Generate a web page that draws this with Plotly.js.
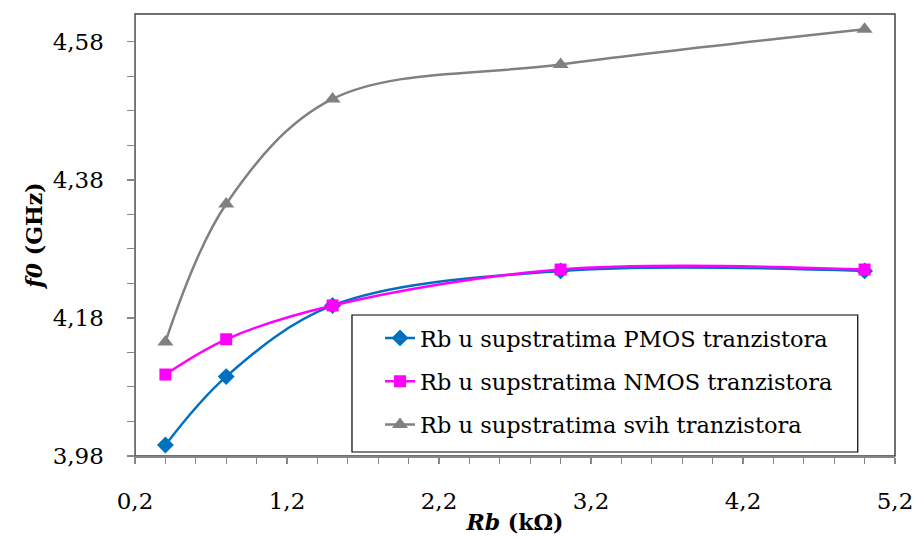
<!DOCTYPE html>
<html>
<head>
<meta charset="utf-8">
<script src="https://cdn.plot.ly/plotly-3.0.1.min.js"></script>
<style>html,body{margin:0;padding:0;background:#fff}#chart{width:915px;height:539px}</style>
</head>
<body>
<div id="chart"></div>
<script>
const rb = [0.4, 0.8, 1.5, 3.0, 5.0];
const pmos = [3.996, 4.095, 4.198, 4.248, 4.248];
const nmos = [4.098, 4.149, 4.198, 4.250, 4.250];
const svih = [4.145, 4.345, 4.497, 4.547, 4.598];
const names = [
  "Rb u supstratima PMOS tranzistora",
  "Rb u supstratima NMOS tranzistora",
  "Rb u supstratima svih tranzistora"
];
const xTicks = [0.2, 1.2, 2.2, 3.2, 4.2, 5.2];
const yTicks = [3.98, 4.18, 4.38, 4.58];

const font = "DejaVu Serif";
function tr(y, name, color, symbol, size, grp) {
  return {
    x: rb, y: y, name: name, type: "scatter", mode: "lines+markers",
    line: {color: color, width: 2.5, shape: "spline", smoothing: 1},
    marker: {color: color, symbol: symbol, size: size},
    legendgroup: grp
  };
}
const data = [
  tr(pmos, names[0], "#0070C0", "diamond", 13, "a"),
  tr(nmos, names[1], "#FF00FF", "square", 12, "b"),
  tr(svih, names[2], "#808080", "triangle-up", 14, "c")
];
const layout = {
  width: 915, height: 539,
  margin: {l: 135, r: 20, t: 14, b: 83},
  paper_bgcolor: "#fff", plot_bgcolor: "#fff",
  separators: ", ",
  font: {family: font, size: 22, color: "#000"},
  showlegend: true,
  legend: {
    x: 0.3224, y: 0.315, xanchor: "left", yanchor: "top",
    bgcolor: "rgba(0,0,0,0)", borderwidth: 0,
    font: {family: font, size: 22.5, color: "#000"},
    traceorder: "grouped", tracegroupgap: 11
  },
  xaxis: {
    range: [0.2, 5.2], tickvals: xTicks, tickformat: ".1f",
    showgrid: false, zeroline: false,
    showline: true, linecolor: "#868686", linewidth: 1.5,
    ticks: "outside", ticklen: 6, tickcolor: "#868686", tickwidth: 1.5,
    ticklabelstandoff: 18,
    minor: {dtick: 0.2, tick0: 0.2, ticks: "outside", ticklen: 6, tickcolor: "#868686", tickwidth: 1},
    tickfont: {family: font, size: 23, color: "#000"},
    title: {text: "<b><i>Rb</i> (kΩ)</b>", font: {family: font, size: 22, color: "#000"}, standoff: 1}
  },
  yaxis: {
    range: [3.98, 4.62], tickvals: yTicks, tickformat: ".2f",
    showgrid: false, zeroline: false,
    showline: true, linecolor: "#868686", linewidth: 1.5,
    ticks: "outside", ticklen: 7, tickcolor: "#868686", tickwidth: 1.5,
    ticklabelstandoff: 18,
    minor: {dtick: 0.05, tick0: 3.98, ticks: "outside", ticklen: 7, tickcolor: "#868686", tickwidth: 1},
    tickfont: {family: font, size: 23, color: "#000"},
    title: {text: "<b><i>f0</i> (GHz)</b>", font: {family: font, size: 22, color: "#000"}, standoff: 4}
  },
  shapes: [{
    type: "rect", xref: "paper", yref: "paper", x0: 0, x1: 1, y0: 0, y1: 1,
    line: {color: "#404040", width: 1.5}, layer: "below"
  }, {
    type: "rect", xref: "paper", yref: "paper", x0: 0.2855, x1: 0.951, y0: 0.009, y1: 0.319,
    fillcolor: "#fff", line: {color: "#000", width: 1.2}, layer: "above"
  }]
};
Plotly.newPlot("chart", data, layout, {displayModeBar: false, staticPlot: true});
</script>
</body>
</html>
